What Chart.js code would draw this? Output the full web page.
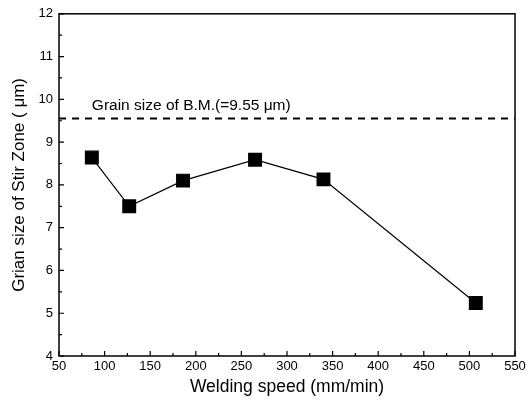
<!DOCTYPE html>
<html lang="en">
<head>
    <meta charset="UTF-8">
    <title>Grain size vs welding speed</title>
    <script src="https://cdn.jsdelivr.net/npm/chart.js@4/dist/chart.umd.min.js"></script>
    <style>
        html, body { margin: 0; padding: 0; background: #fff; }
        #container { width: 530px; height: 412px; }
    </style>
</head>
<body>
<div id="container">
    <canvas id="canvas"></canvas>
</div>
<script>
    // data
    var speeds = [86, 127, 186, 265, 340, 507];          // mm/min
    var grainSizes = [8.64, 7.50, 8.10, 8.59, 8.13, 5.24]; // um
    var baseMetal = 9.55;
    var baseLineX = [50, 550];
    var xTicks = [50, 100, 150, 200, 250, 300, 350, 400, 450, 500, 550];
    var yTicks = [4, 5, 6, 7, 8, 9, 10, 11, 12];

    var FONT = "'Liberation Sans', Arial, sans-serif";

    // frame, inward ticks and the B.M. label
    var decor = {
        id: 'decor',
        afterDraw: function(chart) {
            var ctx = chart.ctx, a = chart.chartArea;
            var xs = chart.scales.x, ys = chart.scales.y;
            ctx.save();
            ctx.strokeStyle = '#000';
            ctx.lineWidth = 1.5;
            ctx.strokeRect(a.left, a.top, a.right - a.left, a.bottom - a.top);
            ctx.lineWidth = 1.2;
            ctx.beginPath();
            for (var v = 4; v <= 12; v += 0.5) {
                var py = ys.getPixelForValue(v);
                var len = (v % 1 === 0) ? 5 : 3;
                ctx.moveTo(a.left, py); ctx.lineTo(a.left + len, py);
            }
            for (var u = 50; u <= 550; u += 25) {
                var px = xs.getPixelForValue(u);
                var l2 = (u % 50 === 0) ? 5 : 3;
                ctx.moveTo(px, a.bottom); ctx.lineTo(px, a.bottom - l2);
            }
            ctx.stroke();
            ctx.fillStyle = '#000';
            ctx.font = '15.5px ' + FONT;
            ctx.textBaseline = 'alphabetic';
            ctx.textAlign = 'left';
            ctx.fillText('Grain size of B.M.(=9.55 \u03bcm)', xs.getPixelForValue(86), ys.getPixelForValue(baseMetal) - 9);
            ctx.restore();
        }
    };

    window.onload = function() {
        var ctx = document.getElementById('canvas').getContext('2d');
        window.myChart = new Chart(ctx, {
            type: 'line',
            data: {
                datasets: [{
                    label: 'Stir zone',
                    data: speeds.map(function(s, i) { return {x: s, y: grainSizes[i]}; }),
                    borderColor: '#000',
                    backgroundColor: '#000',
                    borderWidth: 1.2,
                    pointStyle: 'rect',
                    pointRadius: 9,
                    pointHoverRadius: 9,
                    tension: 0
                }, {
                    label: 'B.M.',
                    data: baseLineX.map(function(x) { return {x: x, y: baseMetal}; }),
                    borderColor: '#000',
                    borderWidth: 2,
                    borderDash: [7, 6],
                    pointRadius: 0,
                    fill: false
                }]
            },
            options: {
                responsive: true,
                maintainAspectRatio: false,
                animation: false,
                layout: { padding: { top: 13, right: 15, left: 0, bottom: 0 } },
                plugins: {
                    legend: { display: false },
                    tooltip: { enabled: false }
                },
                scales: {
                    x: {
                        type: 'linear',
                        min: 50,
                        max: 550,
                        afterBuildTicks: function(s) { s.ticks = xTicks.map(function(v) { return {value: v}; }); },
                        afterFit: function(s) { s.height = 56; },
                        grid: { display: false, drawTicks: false },
                        border: { display: false },
                        ticks: { color: '#000', font: { family: FONT, size: 13 }, padding: 3, maxRotation: 0 },
                        title: {
                            display: true,
                            text: 'Welding speed (mm/min)',
                            color: '#000',
                            font: { family: FONT, size: 17.5 },
                            padding: { top: 0, bottom: 14 }
                        }
                    },
                    y: {
                        min: 4,
                        max: 12,
                        afterBuildTicks: function(s) { s.ticks = yTicks.map(function(v) { return {value: v}; }); },
                        afterFit: function(s) { s.width = 59; },
                        grid: { display: false, drawTicks: false },
                        border: { display: false },
                        ticks: { color: '#000', font: { family: FONT, size: 13 }, padding: 6 },
                        title: {
                            display: true,
                            text: 'Grian size of Stir Zone ( \u03bcm)',
                            color: '#000',
                            font: { family: FONT, size: 17 },
                            padding: { top: 9, bottom: 0 }
                        }
                    }
                }
            },
            plugins: [decor]
        });
    };
</script>
</body>
</html>
